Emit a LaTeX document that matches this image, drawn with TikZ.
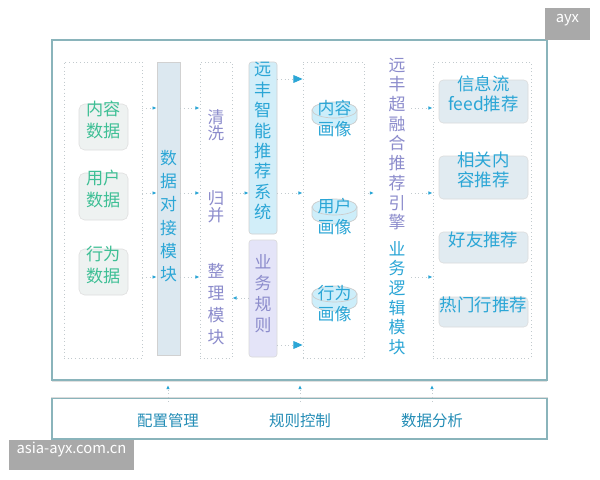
\documentclass[tikz,border=0pt]{standalone}
\usepackage{fontspec}
\setmainfont{Noto Sans CJK SC}
\usetikzlibrary{arrows.meta,positioning,shapes.geometric,fit}
\definecolor{framec}{HTML}{8AB4BB}
\definecolor{dotc}{HTML}{C2CACE}
\definecolor{bluetext}{HTML}{2BA6D6}
\definecolor{greentext}{HTML}{3EBF95}
\definecolor{lavtext}{HTML}{8C8CCC}
\definecolor{datafill}{HTML}{EEF2F1}
\definecolor{dockfill}{HTML}{DCE8F0}
\definecolor{sysfill}{HTML}{D2EEF9}
\definecolor{rulefill}{HTML}{E4E4F8}
\definecolor{outfill}{HTML}{E1EBF1}
\definecolor{discfill}{HTML}{CDEEFA}
\definecolor{wmgrey}{HTML}{A9A9A9}

\begin{document}
\begin{tikzpicture}[x=0.025cm,y=-0.025cm,
  font=\fontsize{12pt}{14pt}\selectfont,
  frame/.style={draw=framec, line width=0.8pt, inner sep=0pt},
  group/.style={draw=dotc, dotted, line width=0.6pt, inner sep=0pt},
  databox/.style={draw=black!13, fill=datafill, rounded corners=4pt, inner sep=0pt, align=center,
                  text=greentext, font=\fontsize{12.2pt}{15.6pt}\selectfont},
  dockbox/.style={draw=black!18, fill=dockfill, inner sep=0pt, align=center,
                  text=bluetext, font=\fontsize{12pt}{16.6pt}\selectfont},
  sysbox/.style={draw=black!18, fill=sysfill, rounded corners=2pt, inner sep=0pt, align=center,
                 text=bluetext, font=\fontsize{12.2pt}{14.5pt}\selectfont},
  rulebox/.style={draw=black!15, fill=rulefill, rounded corners=2pt, inner sep=0pt, align=center,
                  text=lavtext, font=\fontsize{12pt}{14.9pt}\selectfont},
  outbox/.style={draw=black!14, fill=outfill, rounded corners=3pt, inner sep=0pt, align=center,
                 text=bluetext, font=\fontsize{12.4pt}{14.2pt}\selectfont},
  disc/.style={draw=black!20, fill=discfill, line width=0.5pt},
  vtext/.style={align=center, inner sep=0pt, text=lavtext},
  pictext/.style={align=center, inner sep=0pt, text=bluetext, font=\fontsize{12pt}{14.9pt}\selectfont},
  foot/.style={inner sep=0pt, text=bluetext!85!black, font=\fontsize{11pt}{12pt}\selectfont},
  wm/.style={fill=wmgrey, inner sep=0pt, text=white},
  link/.style={draw=dotc, dotted, line width=0.6pt, -{Latex[length=3pt,width=2.6pt,color=bluetext]}},
  biglink/.style={draw=dotc, dotted, line width=0.6pt, -{Triangle[length=6.5pt,width=5.5pt,color=bluetext]}}
]
\useasboundingbox[fill=white] (0,0) rectangle (600,480);

% frames
\draw[black!12, line width=1.6pt] (52,381) -- (547,381);
\node[frame, fit={(52,40) (547,380)}] (main) {};
\node[frame, fit={(52,398) (547,439)}] (bottom) {};
\draw[black!14, line width=1pt] (bottom.north west) -- (bottom.north east);

% row levels of the connectors
\coordinate (rt) at (0,79);
\coordinate (r1) at (0,108);
\coordinate (r2) at (0,193);
\coordinate (r3) at (0,277);
\coordinate (rr) at (0,298);
\coordinate (rb) at (0,345);

% sources
\node[group, fit={(64,62) (142,358)}] (src) {};
\node[databox, fit={(79,104) (128,150)}] (d1) {内容\\数据};
\node[databox, fit={(79,173) (128,220)}] (d2) {用户\\数据};
\node[databox, fit={(79,249) (128,295)}] (d3) {行为\\数据};

\node[dockbox, fit={(157,62) (180,355)}] (dock) {};
\node[vtext, text=bluetext, font=\fontsize{12pt}{16.6pt}\selectfont] (docktxt) at (168.5,216) {数\\据\\对\\接\\模\\块};
\draw[link] (src.east |- r1) -- (dock.west |- r1);
\draw[link] (src.east |- r2) -- (dock.west |- r2);
\draw[link] (src.east |- r3) -- (dock.west |- r3);

% cleaning
\node[group, fit={(200,62) (232,358)}] (prep) {};
\node[vtext, font=\fontsize{11.8pt}{11.8pt}\selectfont] (wash) at (216,125) {清\\洗};
\node[vtext, font=\fontsize{11.8pt}{11.8pt}\selectfont] (merge) at (216,207) {归\\并};
\node[vtext, font=\fontsize{12pt}{15.7pt}\selectfont] (tidy) at (216,304) {整\\理\\模\\块};
\draw[link] (dock.east |- r1) -- (prep.west |- r1);
\draw[link] (dock.east |- r2) -- (prep.west |- r2);
\draw[link] (dock.east |- r3) -- (prep.west |- r3);

% recommender system
\node[sysbox, fit={(249,62) (277,234)}] (sys) {远\\丰\\智\\能\\推\\荐\\系\\统};
\node[rulebox, fit={(249,240) (277,357)}] (rule) {};
\node[vtext, font=\fontsize{12pt}{14.9pt}\selectfont] (ruletxt) at (263,294) {业\\务\\规\\则};
\draw[link] (prep.east |- r2) -- (sys.west |- r2);
\draw[link] (rule.west |- rr) -- (prep.east |- rr);

% profiles (flat discs under the text)
\node[group, fit={(303,62) (364,358)}] (prof) {};
\filldraw[disc] (312,110) -- (312,119) arc[start angle=180, end angle=0, x radius=22.5, y radius=8] -- (357,110) -- cycle;
\filldraw[disc] (334.5,110) ellipse[x radius=22.5, y radius=8];
\node[pictext] (p1) at (334.5,118.5) {内容\\画像};
\filldraw[disc] (312,207) -- (312,216) arc[start angle=180, end angle=0, x radius=22.5, y radius=8] -- (357,207) -- cycle;
\filldraw[disc] (334.5,207) ellipse[x radius=22.5, y radius=8];
\node[pictext] (p2) at (334.5,217) {用户\\画像};
\filldraw[disc] (312,294) -- (312,303) arc[start angle=180, end angle=0, x radius=22.5, y radius=8] -- (357,294) -- cycle;
\filldraw[disc] (334.5,294) ellipse[x radius=22.5, y radius=8];
\node[pictext] (p3) at (334.5,304) {行为\\画像};
\draw[biglink] (sys.east |- rt) -- (prof.west |- rt);
\draw[link] (sys.east |- r2) -- (prof.west |- r2);
\draw[biglink] (rule.east |- rb) -- (prof.west |- rb);

% engine
\node[vtext, font=\fontsize{12pt}{14pt}\selectfont] (engine) at (397,144) {远\\丰\\超\\融\\合\\推\\荐\\引\\擎};
\node[vtext, text=bluetext, font=\fontsize{12pt}{14pt}\selectfont] (logic) at (397,298) {业\\务\\逻\\辑\\模\\块};
\coordinate (engin) at (374,193);
\draw[link] (prof.east |- r2) -- (engin);

% outputs
\node[group, fit={(433,62) (531,358)}] (outs) {};
\node[outbox, fit={(439,80) (528,123)}] (o1) {信息流\\feed推荐};
\node[outbox, fit={(439,156) (528,199)}] (o2) {相关内\\容推荐};
\node[outbox, fit={(439,232) (528,263)}] (o3) {好友推荐};
\node[outbox, fit={(439,297) (528,327)}] (o4) {热门行推荐};
\coordinate (eng1) at (411,108);
\coordinate (eng2) at (411,193);
\coordinate (eng3) at (411,277);
\draw[link] (eng1) -- (outs.west |- eng1);
\draw[link] (eng2) -- (outs.west |- eng2);
\draw[link] (eng3) -- (outs.west |- eng3);

% support services
\node[foot] (cfg) at (168,421) {配置管理};
\node[foot] (ctl) at (300,421) {规则控制};
\node[foot] (ana) at (432,421) {数据分析};
\coordinate (cfgtop) at (168,385);
\coordinate (ctltop) at (300,385);
\coordinate (anatop) at (432,385);
\draw[link] (cfg |- bottom.north) ++(0,4) -- (cfgtop);
\draw[link] (ctl |- bottom.north) ++(0,4) -- (ctltop);
\draw[link] (ana |- bottom.north) ++(0,4) -- (anatop);

% marks
\node[wm, fit={(545,8) (590,40)}, font=\fontsize{10.5pt}{12pt}\selectfont] (wmtop) {ayx};
\node[wm, fit={(9,440) (134,470)}, font=\fontsize{10.5pt}{13pt}\selectfont] (wmbot) {asia-ayx.com.cn};
\end{tikzpicture}
\end{document}
